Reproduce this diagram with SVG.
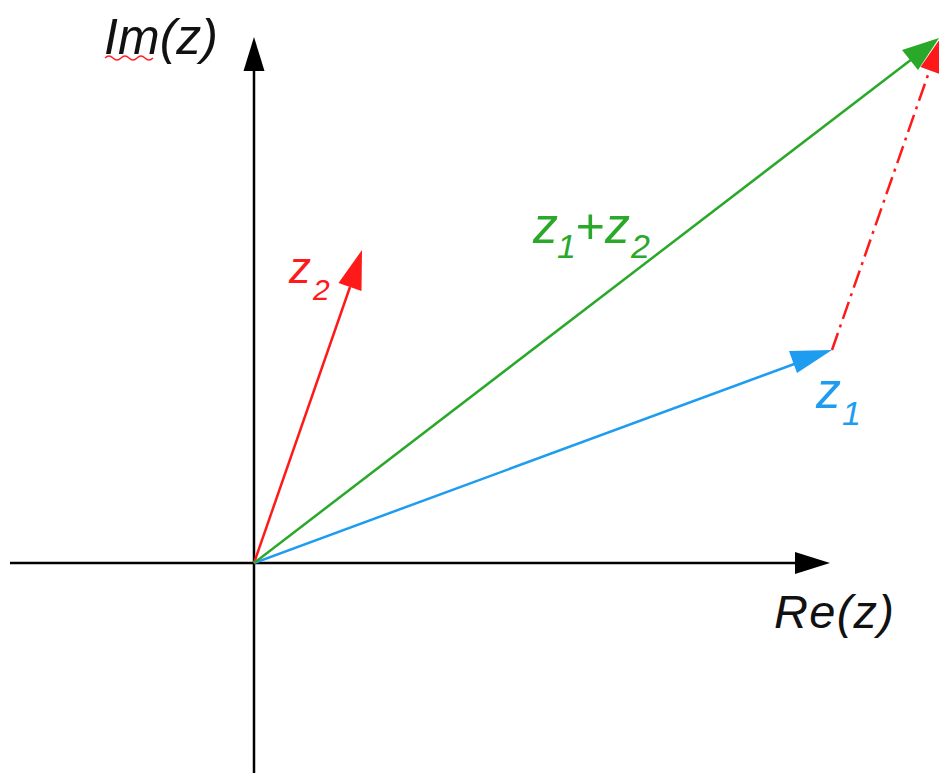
<svg xmlns="http://www.w3.org/2000/svg" width="939" height="773" viewBox="0 0 939 773">
<style>
.axis{stroke:#000;stroke-width:2.5;fill:none}
.vec{stroke-width:2.5;fill:none}
.lbl{font-family:"Liberation Sans",Arial,sans-serif;font-style:italic}
</style>
<rect width="939" height="773" fill="#fff"/>
<g id="connectors">
  <g id="axis-x">
    <line class="axis" x1="10" y1="563" x2="800" y2="563"/>
    <polygon points="830,563 795,552 795,574" fill="#000"/>
  </g>
  <g id="axis-y">
    <line class="axis" x1="254" y1="773" x2="254" y2="66"/>
    <polygon points="254,37 243.5,71 264.5,71" fill="#000"/>
  </g>
  <g id="vec-z2">
    <line class="vec" stroke="#ff1a1a" x1="254" y1="563" x2="350" y2="287"/>
    <polygon points="362,250 338.5,283 361.5,291" fill="#ff1a1a"/>
  </g>
  <g id="vec-z1">
    <line class="vec" stroke="#1e9cf0" x1="254" y1="563" x2="797" y2="363"/>
    <polygon points="832,350 789,351 797,373" fill="#1e9cf0"/>
  </g>
  <g id="vec-z2-shifted">
    <line class="vec" stroke="#ff1a1a" stroke-dasharray="18 6 3 6" x1="832" y1="350" x2="929" y2="72"/>
    <polygon points="942,36 939.5,74 920.5,67" fill="#ff1a1a"/>
  </g>
  <g id="vec-sum">
    <line class="vec" stroke="#2aa82a" x1="254" y1="563" x2="912" y2="59"/>
    <polygon points="939,38 902,50 918,70" fill="#2aa82a"/>
  </g>
</g>
<g id="label-im">
  <text class="lbl" x="104" y="54" font-size="50" textLength="114" fill="#111">Im(z)</text>
  <path d="M105,58 q4,-4 8,0 t8,0 t8,0 t8,0 t8,0 t8,0" stroke="#ff2020" stroke-width="1.5" fill="none"/>
</g>
<g id="label-re">
  <text class="lbl" x="774" y="628" font-size="47" textLength="120" fill="#111">Re(z)</text>
</g>
<g id="label-z2">
  <text class="lbl" fill="#ff1a1a"><tspan x="289" y="283" font-size="44">z</tspan><tspan x="313" y="300" font-size="30">2</tspan></text>
</g>
<g id="label-z1">
  <text class="lbl" fill="#1e9cf0"><tspan x="816" y="408" font-size="50">z</tspan><tspan x="842" y="425" font-size="34">1</tspan></text>
</g>
<g id="label-sum">
  <text class="lbl" fill="#2aa82a"><tspan x="533" y="243" font-size="50">z</tspan><tspan x="557" y="258" font-size="34">1</tspan><tspan x="575" y="243" font-size="50">+</tspan><tspan x="605" y="243" font-size="50">z</tspan><tspan x="631" y="258" font-size="34">2</tspan></text>
</g>
</svg>
